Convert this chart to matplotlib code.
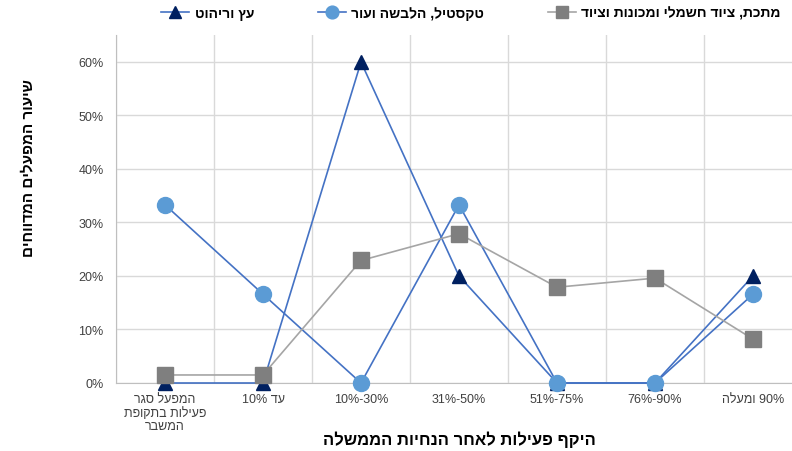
import matplotlib
matplotlib.use("Agg")
import matplotlib.pyplot as plt
from matplotlib.ticker import FuncFormatter, MultipleLocator

plt.rcParams['font.family'] = ['Liberation Sans', 'DejaVu Sans']

# ==============================
# DATA
# ==============================
categories = [
    "המפעל סגר\nפעילות בתקופת\nהמשבר",
    "עד 10%",
    "10%-30%",
    "31%-50%",
    "51%-75%",
    "76%-90%",
    "90% ומעלה",
]

metal = [0.015, 0.015, 0.229, 0.279, 0.179, 0.196, 0.082]
textile = [0.333, 0.166, 0.0, 0.333, 0.0, 0.0, 0.166]
wood = [0.0, 0.0, 0.60, 0.20, 0.0, 0.0, 0.20]

label_metal = "מתכת, ציוד חשמלי ומכונות וציוד"
label_textile = "טקסטיל, הלבשה ועור"
label_wood = "עץ וריהוט"

x_title = "היקף פעילות לאחר הנחיות הממשלה"
y_title = "שיעור המפעלים המדווחים"


# matplotlib has no bidi support: build visual order by hand
def rtl(s):
    out = []
    for line in s.split("\n"):
        words = line.split(" ")[::-1]
        words = [w[::-1] if any("\u0590" <= c <= "\u05ff" for c in w) else w for w in words]
        out.append(" ".join(words))
    return "\n".join(out)


# ==============================
# PLOT
# ==============================
fig = plt.figure(figsize=(7.92, 4.52), dpi=100)
ax = fig.add_axes([116 / 792, 68 / 452, 686 / 792, 0.7694])

x = list(range(len(categories)))

ax.plot(x, wood, color="#4472C4", lw=1.2, marker="^", ms=10,
        mfc="#002060", mec="#002060", label=rtl(label_wood), zorder=3, clip_on=False)
ax.plot(x, textile, color="#4472C4", lw=1.2, marker="o", ms=11.5,
        mfc="#5B9BD5", mec="#5B9BD5", label=rtl(label_textile), zorder=4, clip_on=False)
ax.plot(x, metal, color="#A5A5A5", lw=1.2, marker="s", ms=11,
        mfc="#7F7F7F", mec="#7F7F7F", label=rtl(label_metal), zorder=5, clip_on=False)

ax.set_xlim(-0.5, len(categories) - 0.5)
ax.set_ylim(0, 0.65)
ax.yaxis.set_major_locator(MultipleLocator(0.1))
ax.yaxis.set_major_formatter(FuncFormatter(lambda v, p: f"{v * 100:.0f}%"))

ax.set_xticks(x)
ax.set_xticklabels([rtl(c) for c in categories], fontsize=9, color="#404040",
                   linespacing=1.15)
ax.set_xticks([i - 0.5 for i in range(len(categories) + 1)], minor=True)
ax.tick_params(axis="x", which="major", length=0, pad=7)
ax.tick_params(axis="x", which="minor", length=0)
ax.tick_params(axis="y", length=0, labelsize=9, labelcolor="#404040", pad=9)

ax.grid(True, axis="y", color="#D9D9D9", lw=1)
ax.grid(True, axis="x", which="minor", color="#D9D9D9", lw=1)
ax.set_axisbelow(True)

for side in ["top", "right"]:
    ax.spines[side].set_visible(False)
ax.spines["left"].set_color("#BFBFBF")
ax.spines["bottom"].set_color("#BFBFBF")

fig.text(459 / 792, 1 - 440 / 452, rtl(x_title), ha="center", va="center",
         fontsize=12, fontweight="bold")
fig.text(28 / 792, 1 - 168 / 452, rtl(y_title), ha="center", va="center",
         rotation=90, fontsize=11, fontweight="bold")

fig.legend(loc="center", bbox_to_anchor=(471 / 792, 1 - 14 / 452), ncol=3,
           frameon=False, prop={"weight": "bold", "size": 10},
           handlelength=2.0, handletextpad=0.4, columnspacing=4.6,
           markerscale=0.8)

fig.savefig("out.png", dpi=100)
